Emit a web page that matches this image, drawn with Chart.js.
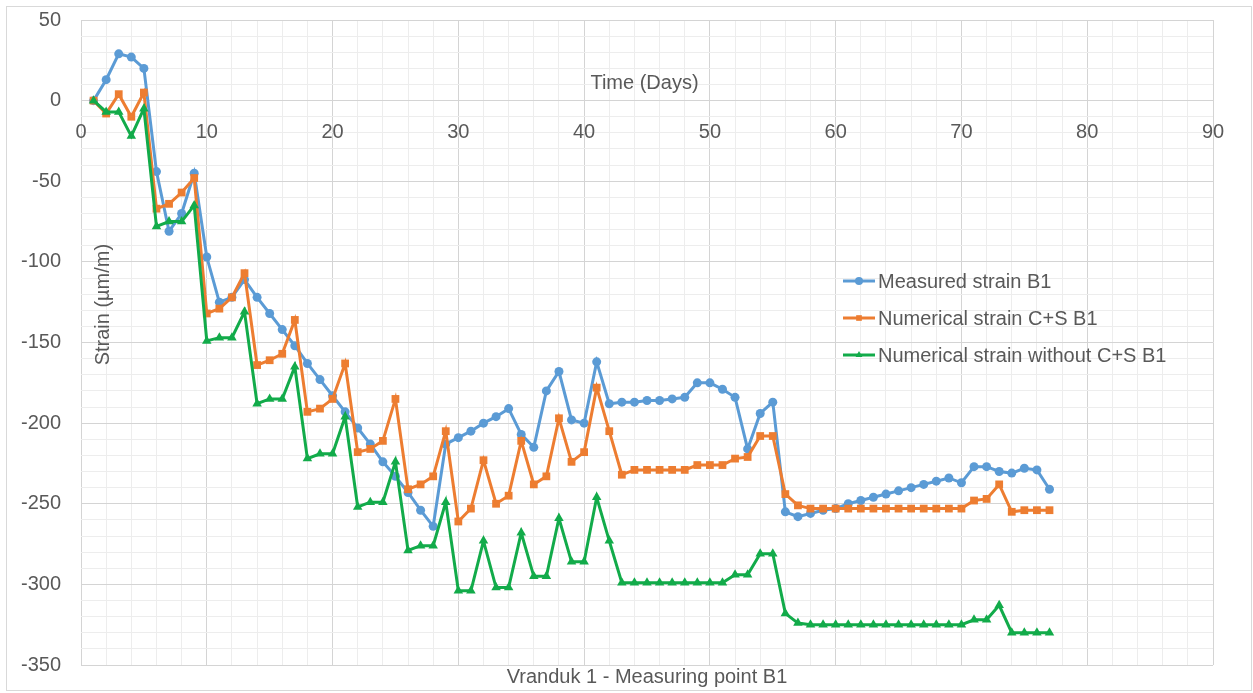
<!DOCTYPE html>
<html>
<head>
<meta charset="utf-8">
<script src="https://cdn.jsdelivr.net/npm/chart.js@4.4.1/dist/chart.umd.min.js"></script>
<style>
  html, body { margin: 0; padding: 0; background: #ffffff; }
  #wrap { position: relative; width: 1253px; height: 693px; }
  canvas { display: block; }
</style>
</head>
<body>
<div id="wrap"><canvas id="c" width="1253" height="693"></canvas></div>
<script>
const days = [1,2,3,4,5,6,7,8,9,10,11,12,13,14,15,16,17,18,19,20,21,22,23,24,25,26,27,28,29,30,31,32,33,34,35,36,37,38,39,40,41,42,43,44,45,46,47,48,49,50,51,52,53,54,55,56,57,58,59,60,61,62,63,64,65,66,67,68,69,70,71,72,73,74,75,76,77];

const measuredB1 = [0,13,29,27,20,-44,-81,-70,-45,-97,-125,-122,-111,-122,-132,-142,-152,-163,-173,-183,-193,-203,-213,-224,-233,-243,-254,-264,-213,-209,-205,-200,-196,-191,-207,-215,-180,-168,-198,-200,-162,-188,-187,-187,-186,-186,-185,-184,-175,-175,-179,-184,-216,-194,-187,-255,-258,-256,-254,-253,-250,-248,-246,-244,-242,-240,-238,-236,-234,-237,-227,-227,-230,-231,-228,-229,-241];

const numericalCS = [0,-8,4,-10,5,-67,-64,-57,-48,-132,-129,-122,-107,-164,-161,-157,-136,-193,-191,-185,-163,-218,-216,-211,-185,-241,-238,-233,-205,-261,-253,-223,-250,-245,-211,-238,-233,-197,-224,-218,-178,-205,-232,-229,-229,-229,-229,-229,-226,-226,-226,-222,-221,-208,-208,-244,-251,-253,-253,-253,-253,-253,-253,-253,-253,-253,-253,-253,-253,-253,-248,-247,-238,-255,-254,-254,-254];

const numericalNoCS = [0,-7,-7,-22,-5,-78,-75,-75,-65,-149,-147,-147,-131,-188,-185,-185,-165,-222,-219,-219,-196,-252,-249,-249,-224,-279,-276,-276,-249,-304,-304,-273,-302,-302,-268,-295,-295,-259,-286,-286,-246,-273,-299,-299,-299,-299,-299,-299,-299,-299,-299,-294,-294,-281,-281,-318,-324,-325,-325,-325,-325,-325,-325,-325,-325,-325,-325,-325,-325,-325,-322,-322,-313,-330,-330,-330,-330];

const seriesNames = ['Measured strain B1', 'Numerical strain C+S B1', 'Numerical strain without C+S B1'];
const xTickLabels = [0,10,20,30,40,50,60,70,80,90];
const yTickLabels = [50,0,-50,-100,-150,-200,-250,-300,-350];

const chartTitle = 'Vranduk 1 - Measuring point B1';
const xTitle = 'Time (Days)';
const yTitle = 'Strain (\u00b5m/m)';

const FONT = '"Liberation Sans Narrow", "Liberation Sans", Arial, sans-serif';
const TEXT = '#595959';
const colors = ['#5B9BD5', '#ED7D31', '#12AB4A'];
const styles = ['circle', 'rect', 'triangle'];
const radii = [4.5, 5.5, 5.5];

function toXY(vals) { return days.map((d, i) => ({ x: d, y: vals[i] })); }

const allSeries = [measuredB1, numericalCS, numericalNoCS];

const datasets = allSeries.map((vals, i) => ({
  label: seriesNames[i],
  data: toXY(vals),
  borderColor: colors[i],
  backgroundColor: colors[i],
  borderWidth: 3,
  pointStyle: styles[i],
  pointRadius: radii[i],
  pointBorderWidth: 0,
  pointBackgroundColor: colors[i],
  pointBorderColor: colors[i],
  tension: 0,
  fill: false,
  order: 3 - i
}));

const decor = {
  id: 'decor',
  afterDraw(chart) {
    const ctx = chart.ctx;
    const ca = chart.chartArea;
    const xs = chart.scales.x, ys = chart.scales.y;
    ctx.save();
    // outer frame
    ctx.strokeStyle = '#d9d9d9';
    ctx.lineWidth = 1;
    ctx.strokeRect(6.5, 6.5, 1245, 684);

    ctx.fillStyle = TEXT;
    ctx.textAlign = 'center';
    ctx.textBaseline = 'middle';
    ctx.font = '20px ' + FONT;
    // x title (inside plot, above zero line)
    ctx.fillText(xTitle, xs.getPixelForValue(44.8), ys.getPixelForValue(10.5));
    // y title rotated
    ctx.save();
    ctx.translate(ca.left + 22, ys.getPixelForValue(-126.5));
    ctx.rotate(-Math.PI / 2);
    ctx.fillText(yTitle, 0, 0);
    ctx.restore();
    // bottom chart title
    ctx.fillText(chartTitle, (ca.left + ca.right) / 2, ca.bottom + 12);

    // legend
    const lx = ca.left + 762, ly0 = ca.top + 261, gap = 37;
    ctx.textAlign = 'left';
    chart.data.datasets.forEach((ds, i) => {
      const y = ly0 + i * gap;
      ctx.strokeStyle = ds.borderColor;
      ctx.lineWidth = 3;
      ctx.beginPath();
      ctx.moveTo(lx, y);
      ctx.lineTo(lx + 32, y);
      ctx.stroke();
      ctx.fillStyle = ds.borderColor;
      Chart.helpers.drawPoint(ctx, {pointStyle: ds.pointStyle, radius: 4, borderWidth: 0, rotation: 0}, lx + 16, y);
      ctx.fillStyle = TEXT;
      ctx.fillText(ds.label, lx + 35, y + 1);
    });
    ctx.restore();
  }
};

new Chart(document.getElementById('c'), {
  type: 'line',
  data: { datasets },
  options: {
    responsive: false,
    animation: false,
    events: [],
    layout: { padding: { left: 8, right: 40, top: 20, bottom: 28 } },
    plugins: { legend: { display: false }, tooltip: { enabled: false }, title: { display: false } },
    scales: {
      x: {
        type: 'linear',
        position: { y: 0 },
        min: 0, max: 90,
        afterFit: (s) => { s.height = 0; },
        border: { display: false },
        grid: {
          drawTicks: false,
          lineWidth: 1,
          color: (c) => (c.tick && c.tick.value % 10 === 0) ? '#d4d4d4' : '#ededed'
        },
        ticks: {
          stepSize: 2,
          autoSkip: false,
          maxRotation: 0,
          padding: 20,
          color: TEXT,
          font: { size: 20, family: FONT },
          callback: (v) => xTickLabels.includes(v) ? String(v) : ''
        }
      },
      y: {
        type: 'linear',
        min: -350, max: 50,
        border: { display: false },
        afterFit: (s) => { s.width = 73; },
        grid: {
          drawTicks: true,
          tickLength: 20,
          tickColor: 'rgba(0,0,0,0)',
          lineWidth: 1,
          color: (c) => (c.tick && c.tick.value % 50 === 0) ? '#d4d4d4' : '#ededed'
        },
        ticks: {
          stepSize: 10,
          autoSkip: false,
          padding: 0,
          color: TEXT,
          font: { size: 20, family: FONT },
          callback: (v) => yTickLabels.includes(v) ? String(v) : ''
        }
      }
    }
  },
  plugins: [decor]
});
</script>
</body>
</html>
